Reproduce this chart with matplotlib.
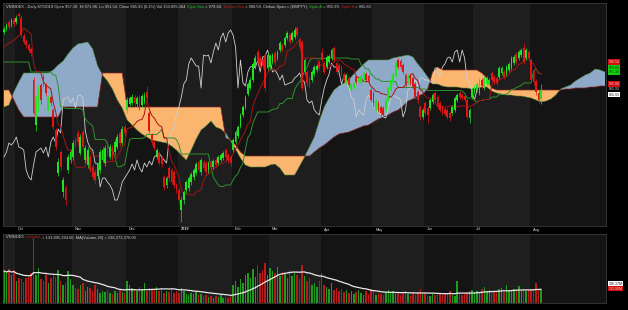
import numpy as np
import pandas as pd
import matplotlib.pyplot as plt

# VNINDEX daily bars, 24 Sep 2018 .. 7 Aug 2019
opens = [1024, 1027, 1034, 1031, 1036, 1034, 1042, 1038, 1020, 1015,
         1011, 1007, 976, 931, 948, 971, 979, 971, 946, 959,
         946, 926, 883, 904, 864, 868, 886, 896, 899, 916,
         923, 903, 924, 896, 891, 899, 889, 884, 880, 886,
         896, 893, 913, 899, 909, 904, 909, 923, 913, 929,
         946, 952, 953, 959, 952, 959, 951, 954, 964, 943,
         921, 914, 899, 903, 898, 879, 871, 888, 886, 884,
         871, 866, 846, 856, 866, 868, 874, 879, 883, 894,
         884, 894, 893, 886, 894, 889, 896, 893, 896, 898,
         906, 901, 899, 906, 914, 920, 930, 941, 949, 962,
         968, 976, 989, 1004, 998, 996, 1001, 988, 989, 994,
         1003, 998, 1006, 1011, 1011, 1018, 1021, 1016, 1019, 1028,
         1016, 1014, 984, 984, 978, 976, 982, 986, 994, 1003,
         993, 989, 994, 998, 1008, 993, 991, 989, 982, 973,
         978, 966, 968, 979, 974, 973, 976, 982, 980, 966,
         963, 946, 953, 949, 948, 946, 956, 966, 973, 980,
         996, 995, 991, 981, 974, 981, 978, 972, 964, 949,
         939, 953, 948, 948, 954, 963, 959, 953, 949, 947,
         946, 943, 943, 946, 956, 963, 961, 960, 956, 938,
         959, 964, 966, 963, 976, 968, 972, 971, 983, 979,
         978, 979, 983, 984, 982, 986, 988, 993, 1002, 998,
         1001, 1008, 998, 1004, 996, 984, 975, 963, 957.18]
highs = [1030, 1033, 1036, 1038, 1039, 1041, 1044, 1041, 1023, 1017,
         1013, 1009, 979, 961, 971, 973, 982, 973, 961, 961,
         948, 928, 898, 906, 879, 871, 902, 907, 916, 919,
         926, 922, 927, 911, 909, 902, 892, 887, 894, 907,
         909, 911, 916, 912, 911, 917, 922, 925, 930, 932,
         959, 960, 962, 961, 960, 961, 962, 964, 970, 945,
         923, 916, 908, 905, 900, 881, 880, 890, 888, 886,
         873, 868, 859, 866, 876, 880, 884, 888, 894, 896,
         898, 896, 895, 895, 896, 897, 898, 901, 903, 905,
         908, 903, 901, 918, 926, 931, 943, 951, 961, 974,
         979, 994, 1001, 1007, 1000, 998, 1003, 1004, 1002, 1003,
         1005, 1006, 1015, 1013, 1020, 1025, 1023, 1025, 1029, 1030,
         1018, 1016, 998, 986, 980, 986, 991, 992, 996, 1008,
         995, 1001, 1002, 1008, 1010, 995, 993, 991, 984, 983,
         980, 974, 975, 981, 980, 982, 985, 984, 982, 968,
         965, 957, 955, 951, 950, 958, 970, 978, 984, 995,
         998, 997, 993, 983, 982, 983, 980, 974, 966, 951,
         948, 955, 950, 958, 963, 965, 961, 955, 951, 949,
         948, 945, 951, 960, 963, 965, 963, 962, 958, 948,
         968, 971, 974, 978, 978, 980, 980, 978, 985, 981,
         980, 990, 990, 986, 991, 994, 1000, 1001, 1004, 1006,
         1008, 1013, 1008, 1006, 998, 986, 977, 966, 971.96]
lows = [1022, 1025, 1027, 1029, 1030, 1032, 1038, 1019, 1012, 1008,
        1004, 1000, 941, 925, 944, 952, 970, 960, 944, 950,
        927, 906, 880, 886, 859, 851, 883, 893, 896, 908,
        911, 901, 906, 893, 888, 884, 876, 873, 877, 883,
        894, 890, 900, 897, 896, 901, 907, 910, 911, 920,
        943, 950, 951, 950, 949, 946, 949, 952, 956, 923,
        911, 906, 897, 891, 889, 866, 868, 875, 872, 868,
        863, 853, 834, 852, 863, 865, 871, 876, 881, 884,
        881, 886, 881, 883, 886, 887, 888, 891, 894, 896,
        896, 893, 890, 904, 912, 918, 928, 939, 947, 960,
        966, 974, 987, 992, 988, 987, 965, 986, 987, 992,
        991, 996, 1004, 1004, 1009, 1016, 1012, 1014, 1017, 1019,
        1007, 966, 981, 970, 968, 974, 980, 984, 986, 994,
        982, 987, 992, 996, 994, 982, 984, 980, 974, 971,
        969, 964, 966, 972, 972, 971, 974, 974, 972, 954,
        950, 944, 944, 940, 939, 944, 954, 964, 971, 978,
        987, 987, 982, 970, 972, 971, 967, 957, 953, 936,
        937, 941, 933, 946, 952, 954, 947, 944, 941, 940,
        937, 935, 941, 944, 954, 957, 956, 954, 937, 933,
        957, 962, 964, 961, 968, 966, 970, 969, 974, 972,
        971, 977, 981, 977, 980, 984, 986, 991, 992, 996,
        999, 992, 996, 995, 974, 971, 961, 953, 951.54]
closes = [1027, 1031, 1029, 1036, 1032, 1038, 1040, 1021, 1014, 1011,
          1006, 1003, 943, 959, 968, 956, 973, 963, 959, 953,
          929, 909, 894, 889, 876, 856, 899, 904, 913, 911,
          914, 919, 909, 908, 906, 886, 879, 876, 891, 904,
          906, 908, 903, 909, 899, 914, 919, 913, 927, 923,
          956, 958, 959, 953, 958, 948, 960, 961, 958, 925,
          914, 908, 906, 893, 892, 869, 878, 878, 874, 871,
          866, 856, 856, 864, 874, 878, 882, 886, 892, 886,
          896, 888, 884, 893, 889, 895, 891, 899, 901, 903,
          899, 896, 893, 916, 924, 929, 941, 949, 959, 972,
          976, 992, 998, 994, 990, 990, 968, 1001, 1000, 1001,
          993, 1004, 1013, 1006, 1018, 1023, 1014, 1023, 1026, 1021,
          1009, 968, 996, 973, 970, 984, 989, 990, 988, 996,
          984, 999, 1000, 1006, 996, 984, 986, 982, 976, 981,
          971, 972, 973, 974, 978, 980, 983, 976, 974, 956,
          953, 955, 946, 943, 941, 956, 968, 976, 982, 993,
          989, 989, 984, 972, 980, 973, 969, 959, 956, 939,
          946, 943, 941, 956, 961, 956, 949, 946, 943, 942,
          939, 938, 949, 958, 961, 959, 958, 956, 939, 946,
          966, 969, 972, 976, 970, 978, 978, 976, 976, 974,
          973, 988, 988, 979, 989, 992, 998, 999, 994, 1004,
          1006, 994, 1006, 998, 976, 974, 964, 956, 965.93]
volume_m = [320, 300, 340, 280, 330, 220, 250, 240, 210, 250,
            260, 300, 650, 280, 350, 240, 220, 300, 200, 250,
            280, 260, 330, 220, 180, 200, 320, 240, 180, 150,
            140, 180, 200, 120, 160, 150, 120, 180, 140, 100,
            120, 110, 130, 100, 90, 120, 100, 140, 110, 100,
            220, 180, 150, 140, 120, 160, 130, 200, 120, 150,
            140, 130, 160, 120, 140, 100, 120, 110, 140, 100,
            120, 100, 150, 120, 90, 80, 100, 90, 110, 80,
            90, 70, 80, 60, 70, 50, 70, 60, 80, 50,
            60, 50, 70, 180, 220, 160, 240, 200, 280, 300,
            250, 340, 260, 380, 300, 330, 400, 280, 350, 320,
            300, 360, 270, 310, 290, 250, 330, 270, 300, 280,
            240, 380, 270, 220, 250, 180, 200, 160, 220, 300,
            180, 160, 140, 200, 130, 150, 120, 140, 110, 130,
            100, 120, 90, 110, 130, 100, 80, 120, 90, 140,
            120, 80, 100, 90, 80, 110, 130, 100, 120, 90,
            110, 80, 100, 120, 90, 70, 100, 80, 110, 140,
            90, 100, 80, 70, 90, 80, 100, 90, 80, 100,
            90, 120, 80, 70, 220, 100, 80, 90, 110, 120,
            130, 100, 120, 110, 140, 160, 120, 130, 100, 110,
            120, 140, 150, 110, 180, 120, 120, 140, 130, 170,
            120, 130, 120, 130, 140, 140, 200, 130, 133.895384]

# Ichimoku cloud read every second day, running 26 days past the last bar
span_a = [949, 951, 964, 974, 983, 983, 983, 983, 983, 983,
          986, 991, 995, 1002, 1008, 1012, 1013, 1014, 1007, 990,
          981, 975, 967, 956, 948, 936, 931, 926, 922, 919,
          916, 915, 914, 913, 910, 906, 901, 896, 906, 917,
          926, 930, 935, 929, 927, 923, 915, 907, 898, 891,
          889, 889, 889, 889, 891, 892, 888, 881, 881, 881,
          890, 899, 909, 919, 935, 949, 958, 966, 970, 973,
          976, 982, 987, 992, 996, 996, 996, 996, 996, 998,
          999, 1000, 1001, 999, 992, 986, 979, 972, 972, 970,
          969, 969, 969, 968, 968, 967, 968, 969, 969, 965,
          963, 962, 961, 961, 960, 960, 959, 958, 956, 954,
          955, 957, 961, 967, 969, 971, 975, 978, 981, 983,
          987, 986, 984]
span_b = [966, 966, 956, 946, 939, 939, 939, 939, 939, 939,
          939, 939, 949, 949, 949, 949, 949, 949, 949, 949,
          983, 983, 983, 983, 983, 949, 949, 949, 949, 949,
          949, 949, 949, 949, 949, 949, 949, 949, 949, 949,
          949, 949, 949, 949, 949, 918, 916, 911, 904, 900,
          900, 900, 900, 900, 900, 900, 900, 900, 900, 900,
          900, 900, 900, 904, 908, 911, 915, 919, 922, 923,
          924, 926, 928, 930, 931, 934, 937, 939, 941, 944,
          946, 950, 955, 957, 960, 962, 967, 984, 989, 986,
          986, 986, 986, 986, 986, 986, 986, 983, 978, 968,
          966, 966, 966, 966, 966, 966, 966, 966, 966, 966,
          966, 966, 966, 966, 967, 967, 968, 968, 968, 969,
          969, 970, 970]
# lines before their look-back window is filled
kijun_head = [994, 994, 994, 994, 994, 994, 994, 994, 994, 994, 994,
              984, 984, 984, 984, 984, 984, 984, 984, 984,
              981, 981, 970, 949, 949]
tenkan_head = [1009, 1011, 1013, 1014, 1016, 1018, 1020, 1022]

month_start = [5, 28, 50, 71, 93, 108, 129, 150, 171, 191, 214]
month_names = ['Oct', 'Nov', 'Dec', '2019', 'Feb', 'Mar', 'Apr', 'May', 'Jun', 'Jul', 'Aug']

df = pd.DataFrame({'o': opens, 'h': highs, 'l': lows, 'c': closes, 'v': volume_m})
days = np.arange(len(df))
df['tenkan'] = (df.h.rolling(9).max() + df.l.rolling(9).min()) / 2
df['kijun'] = (df.h.rolling(26).max() + df.l.rolling(26).min()) / 2
df.loc[:len(tenkan_head) - 1, 'tenkan'] = tenkan_head
df.loc[:len(kijun_head) - 1, 'kijun'] = kijun_head
df['vma'] = df.v.rolling(20, min_periods=1).mean()
up = df.c >= df.o
span_days = np.arange(0, 2 * len(span_a), 2)
sa = np.array(span_a, dtype=float)
sb = np.array(span_b, dtype=float)

W, H = 628, 310
fig = plt.figure(figsize=(W / 100, H / 100), dpi=100, facecolor='black')
ax = fig.add_axes([3 / W, 1 - 226 / H, 603 / W, 223 / H])
axv = fig.add_axes([3 / W, 1 - 303 / H, 603 / W, 69 / H])
xlim = (-0.41, 244.4)

edges = [xlim[0]] + [m - 0.5 for m in month_start] + [xlim[1]]
for a in (ax, axv):
    a.set_facecolor('#161616')
    for i in range(len(edges) - 1):
        shade = '#1e1e1e' if i % 2 == 0 else '#141414'
        a.axvspan(edges[i], edges[i + 1], color=shade, lw=0, zorder=0)
    a.set_xlim(*xlim)
    a.set_xticks([])
    a.set_yticks([])
    for s in a.spines.values():
        s.set_color('#3a3a3a')
        s.set_linewidth(0.6)

# cloud
ax.fill_between(span_days, sa, sb, where=sa >= sb, interpolate=True,
                color='#8fa9c9', lw=0, zorder=1)
ax.fill_between(span_days, sa, sb, where=sa < sb, interpolate=True,
                color='#fbb56e', lw=0, zorder=1)
ax.plot(span_days, sa, color='#4f8a3a', lw=0.4, zorder=2)
ax.plot(span_days, sb, color='#8e2424', lw=0.5, zorder=2)

# lines
ax.plot(days[:-26], df.c.values[26:], color='#cfcfcf', lw=0.6, zorder=3)
ax.plot(days, df.kijun, color='#2f8f2f', lw=0.7, zorder=3)
ax.plot(days, df.tenkan, color='#a31515', lw=0.7, zorder=3)

# candles
cols = np.where(up, '#22e022', '#e31414')
body = np.maximum((df.c - df.o).abs(), 0.8)
ax.vlines(days, df.l, df.h, colors=cols, lw=0.5, zorder=4)
ax.bar(days, body, bottom=np.minimum(df.o, df.c), width=0.72, color=cols, lw=0, zorder=5)
ax.set_ylim(830, 1053)

# volume
vcols = np.where(up, '#1f9a1f', '#b81a1a')
axv.bar(days, df.v, width=0.6, color=vcols, lw=0, zorder=2)
axv.plot(days, df.vma, color='#e8e8e8', lw=0.9, zorder=3)
axv.set_ylim(0, 690)

# month labels under the price panel
for m, name in zip(month_start, month_names):
    xf = (3 + (m - 0.5 - xlim[0]) / (xlim[1] - xlim[0]) * 603 + 3) / W
    fig.text(xf, 1 - 229.5 / H, name, color='#d8d8d8', fontsize=2.8,
             fontweight='bold' if name == '2019' else 'normal',
             family='Liberation Sans', va='center', ha='left')

fig.canvas.draw()
rend = fig.canvas.get_renderer()


def line_of_text(x, y, parts, size=2.9):
    for s, col in parts:
        t = fig.text(x, y, s, color=col, fontsize=size, family='Liberation Sans',
                     va='center', ha='left')
        x = t.get_window_extent(rend).x1 / fig.bbox.width


line_of_text(6 / W, 1 - 7 / H, [
    ('VNINDEX - Daily 8/7/2019 Open 957.18, Hi 971.96, Lo 951.54, Close 965.93 (0.1%) Vol 133,895,384', '#d0d0d0'),
    (' Kijun Sen', '#22c022'), (' = 979.84,', '#d0d0d0'),
    (' Tenkan Sen', '#c41a1a'), (' = 980.58, Chikou Span = (EMPTY),', '#d0d0d0'),
    (' Span A', '#22c022'), (' = 955.99,', '#d0d0d0'),
    (' Span B', '#c41a1a'), (' = 965.80', '#d0d0d0')])
line_of_text(6 / W, 1 - 237.5 / H, [
    ('VNINDEX -', '#d0d0d0'), (' Volume', '#c41a1a'),
    (' = 133,895,384.00, MA(Volume,20) = 136,373,376.00', '#d0d0d0')])


def tag(ypix, text, fc, tc):
    fig.text(608.5 / W, 1 - ypix / H, text, color=tc, fontsize=2.6,
             family='Liberation Sans', va='center', ha='left', linespacing=1.1,
             bbox=dict(boxstyle='square,pad=0.25', fc=fc, ec='none'))


tag(62, '980.58', '#d01010', '#f0c0c0')
tag(70, '979.84\n971.16', '#10d010', '#0a3a0a')
tag(84, '965.80', '#d01010', '#f0c0c0')
tag(89.5, '965.93', 'black', '#e0e0e0')
tag(94.5, '965.93', 'white', '#202020')
tag(284, '136.37M', 'white', '#202020')
tag(288.5, '133.90M', '#d01010', '#f0c0c0')

fig.savefig('out.png', dpi=100, facecolor='black')
